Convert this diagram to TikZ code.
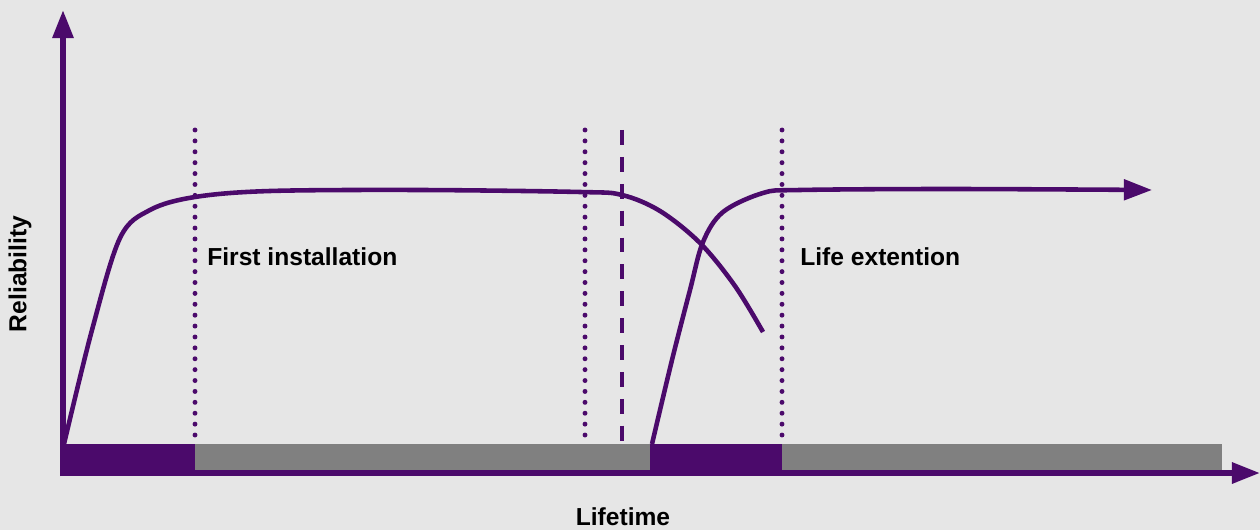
\documentclass[tikz,border=0pt]{standalone}
\usepackage{fontspec}
\setmainfont{Liberation Sans}
\usepackage{tikz}
\usetikzlibrary{arrows.meta}
\usetikzlibrary{positioning}

\definecolor{lifepurple}{HTML}{4B0A6B}
\definecolor{bargray}{HTML}{808080}
\definecolor{bggray}{HTML}{E6E6E6}

\providecommand{\BarTop}{444}
\providecommand{\MarkTop}{130}

\tikzset{
  axisline/.style={line width=3.2pt, lifepurple, -{Triangle[length=16pt,width=11.5pt]}},
  lifecurve/.style={line width=2.6pt, lifepurple},
  phaseline/.style={line width=2.8pt, lifepurple, line cap=round, dash pattern=on 0pt off 6.2pt},
  swapline/.style={line width=2.8pt, lifepurple, dash pattern=on 8.5pt off 6.8pt},
  lbl/.style={font=\bfseries\fontsize{14}{16}\selectfont, text=black, inner sep=0pt}
}

\begin{document}
\begin{tikzpicture}[x=0.02cm, y=-0.02cm]

\fill[bggray] (0,0) rectangle (1260,530);
\useasboundingbox (0,0) rectangle (1260,530);

% Phase bars along the time axis
\fill[lifepurple] (63,\BarTop) rectangle (195,474);
\fill[bargray] (195,\BarTop) rectangle (650,471);
\fill[lifepurple] (650,\BarTop) rectangle (782,474);
\fill[bargray] (782,\BarTop) rectangle (1222,471);

% Axes
\coordinate (origin) at (63,476);
\coordinate (ytip) at (63,10);
\coordinate (xstart) at (60,473);
\coordinate (xtip) at (1260,473);
\draw[axisline] (origin) -- (ytip);
\draw[axisline] (xstart) -- (xtip);

% Phase markers
\foreach \x in {195, 585, 782}
{
  \draw[phaseline] (\x,\MarkTop) -- (\x,\BarTop);
}
\draw[swapline] (622,\MarkTop) -- (622,\BarTop);

% First installation curve
\draw[lifecurve] plot[smooth, tension=0.55] coordinates {
  (64,444) (92,330) (120,238) (150,210) (195,197) (270,191)
  (420,190) (580,192) (622,195) (660,211) (700,243) (735,286) (763,332)};

% Life extension curve
\draw[lifecurve, -{Triangle[length=16pt,width=11.5pt]}] plot[smooth, tension=0.55] coordinates {
  (652,444) (672,360) (690,290) (703,242) (723,212) (763,193) (800,190)
  (950,189) (1152,190)};

% Labels
\node[lbl, anchor=west] (firstlbl) at (207,257) {First installation};
\node[lbl, anchor=west] (extlbl) at (800,257) {Life extention};
\node[lbl, rotate=90] (ylbl) at (20,274) {Reliability};
\node[lbl] (xlbl) at (623,517) {Lifetime};

\end{tikzpicture}
\end{document}
